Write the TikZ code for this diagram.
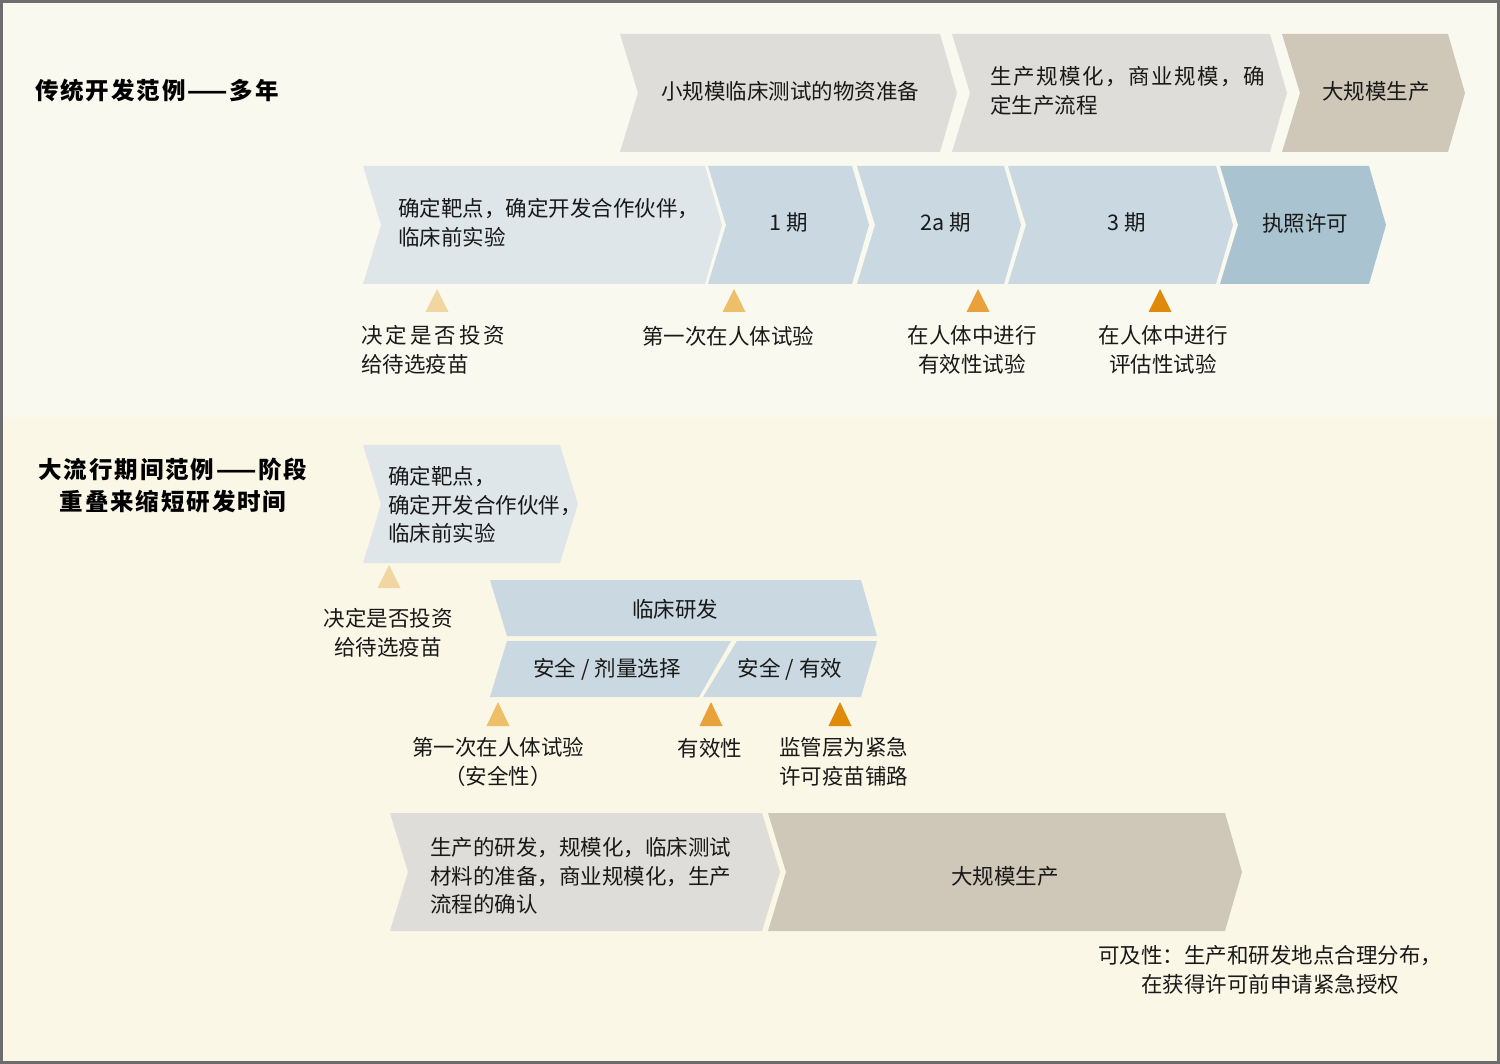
\documentclass[tikz,border=0pt]{standalone}
\usepackage{fontspec}
\setmainfont{Noto Sans CJK SC}
\newfontfamily\ttlfont[LetterSpace=8]{Noto Sans CJK SC}
\definecolor{bgtop}{HTML}{FAF9EF}
\definecolor{bgbot}{HTML}{FBF7E6}
\definecolor{frame}{HTML}{6D6D6D}
\definecolor{grayarr}{HTML}{DEDDD9}
\definecolor{taupe}{HTML}{CFC7B8}
\definecolor{palebl}{HTML}{DFE6EA}
\definecolor{midbl}{HTML}{C9D8E1}
\definecolor{darkbl}{HTML}{AAC3D0}
\definecolor{tri1}{HTML}{F2D6A2}
\definecolor{tri2}{HTML}{EEBF69}
\definecolor{tri3}{HTML}{E8A13B}
\definecolor{tri4}{HTML}{E08A0B}
\newcommand{\lsp}{\kern3pt}
\tikzset{
	lbl/.style={font=\fontsize{21.5}{28.5}\selectfont, align=center, inner sep=0pt, text=black!90},
	lblleft/.style={lbl, align=left, anchor=west},
	ttl/.style={font=\ttlfont\fontsize{23.5}{32}\selectfont\bfseries, align=center, inner sep=0pt}
}
\begin{document}
\begin{tikzpicture}[x=1pt, y=-1pt]
		\useasboundingbox (0,0) rectangle (1500,1064);
		% Background and frame
		\fill [bgtop] (0,0) rectangle (1500,417);
		\fill [bgbot] (0,417) rectangle (1500,1064);
		\draw [frame, line width=3pt] (1.5,1.5) rectangle (1498.5,1062.5);
		% Traditional way
		\node [ttl, anchor=west] (title1) at (35,91) {传统开发范例——多年};
		\foreach \l/\r/\c in {620/940/grayarr, 952/1270/grayarr, 1282/1448/taupe}
			\fill [\c] (\l,34) -- (\r,34) -- (\r+17,93) -- (\r,152) -- (\l,152) -- (\l+18,93) -- cycle;
		\foreach \l/\r/\c in {363/705/palebl, 708/852/midbl, 857/1004/midbl, 1008/1216/midbl, 1220/1369/darkbl}
			\fill [\c] (\l,166) -- (\r,166) -- (\r+17,225) -- (\r,284) -- (\l,284) -- (\l+18,225) -- cycle;
		\node [lbl] (supply) at (790,91) {小规模临床测试的物资准备};
		\node [lblleft] (scale) at (990,91) {生\kern1.5pt 产\kern1.5pt 规\kern1.5pt 模\kern1.5pt 化\kern1.5pt ，\kern1.5pt 商\kern1.5pt 业\kern1.5pt 规\kern1.5pt 模\kern1.5pt ，\kern1.5pt 确\\定生产流程};
		\node [lbl] (mass) at (1376,91) {大规模生产};
		\node [lblleft] (target) at (398,223) {确定靶点，确定开发合作伙伴，\\临床前实验};
		\node [lbl] (ph1) at (789,223) {1 期};
		\node [lbl] (ph2) at (946,223) {2a 期};
		\node [lbl] (ph3) at (1127,223) {3 期};
		\node [lbl] (licence) at (1305,223) {执照许可};
		% Milestones
		\foreach \x/\c in {437/tri1, 734/tri2, 978/tri3, 1160/tri4}
			\fill [\c] (\x,289) -- (\x+11.5,312) -- (\x-11.5,312) -- cycle;
		\node [lblleft] (invest) at (361,350) {决\lsp 定\lsp 是\lsp 否\lsp 投\lsp 资\\给待选疫苗};
		\node [lbl] (first) at (728,336) {第一次在人体试验};
		\node [lbl] (effic) at (972,350) {在人体中进行\\有效性试验};
		\node [lbl] (evalu) at (1163,350) {在人体中进行\\评估性试验};
		% Pandemic way
		\node [ttl] (title2) at (173,485) {大流行期间范例——阶段\\重叠来缩短研发时间};
		\fill [palebl] (363,445) -- (560,445) -- (578,504) -- (560,563) -- (363,563) -- (381,504) -- cycle;
		\node [lblleft] (target2) at (388,505) {确定靶点，\\确定开发合作伙伴，\\临床前实验};
		\fill [tri1] (389,565) -- (400.5,588) -- (377.5,588) -- cycle;
		\node [lbl] (invest2) at (388,633) {决定是否投资\\给待选疫苗};
		% Clinical block
		\fill [midbl] (490,580) -- (861,580) -- (877,636) -- (507,636) -- cycle;
		\fill [midbl] (507,641) -- (731,641) -- (699,697) -- (490,697) -- cycle;
		\fill [midbl] (737,641) -- (877,641) -- (861,697) -- (703,697) -- cycle;
		\node [lbl] (clin) at (675,609) {临床研发};
		\node [lbl] (dose) at (607,669) {安全 / 剂量选择};
		\node [lbl] (safe) at (790,669) {安全 / 有效};
		\foreach \x/\c in {498/tri2, 711/tri3, 840/tri4}
			\fill [\c] (\x,702) -- (\x+11.5,726) -- (\x-11.5,726) -- cycle;
		\node [lbl] (first2) at (498,762) {第一次在人体试验\\（安全性）};
		\node [lbl] (effic2) at (710,748) {有效性};
		\node [lblleft] (regul) at (779,762) {监管层为紧急\\许可疫苗铺路};
		% Production
		\fill [grayarr] (390,813) -- (762,813) -- (780,872) -- (762,931) -- (390,931) -- (408,872) -- cycle;
		\fill [taupe] (768,813) -- (1225,813) -- (1242,872) -- (1225,931) -- (768,931) -- (786,872) -- cycle;
		\node [lblleft] (prod) at (430,876) {生产的研发，规模化，临床测试\\材料的准备，商业规模化，生产\\流程的确认};
		\node [lbl] (mass2) at (1005,876) {大规模生产};
		\node [lbl] (access) at (1270,970) {可及性：生产和研发地点合理分布，\\在获得许可前申请紧急授权};
	\end{tikzpicture}
\end{document}
